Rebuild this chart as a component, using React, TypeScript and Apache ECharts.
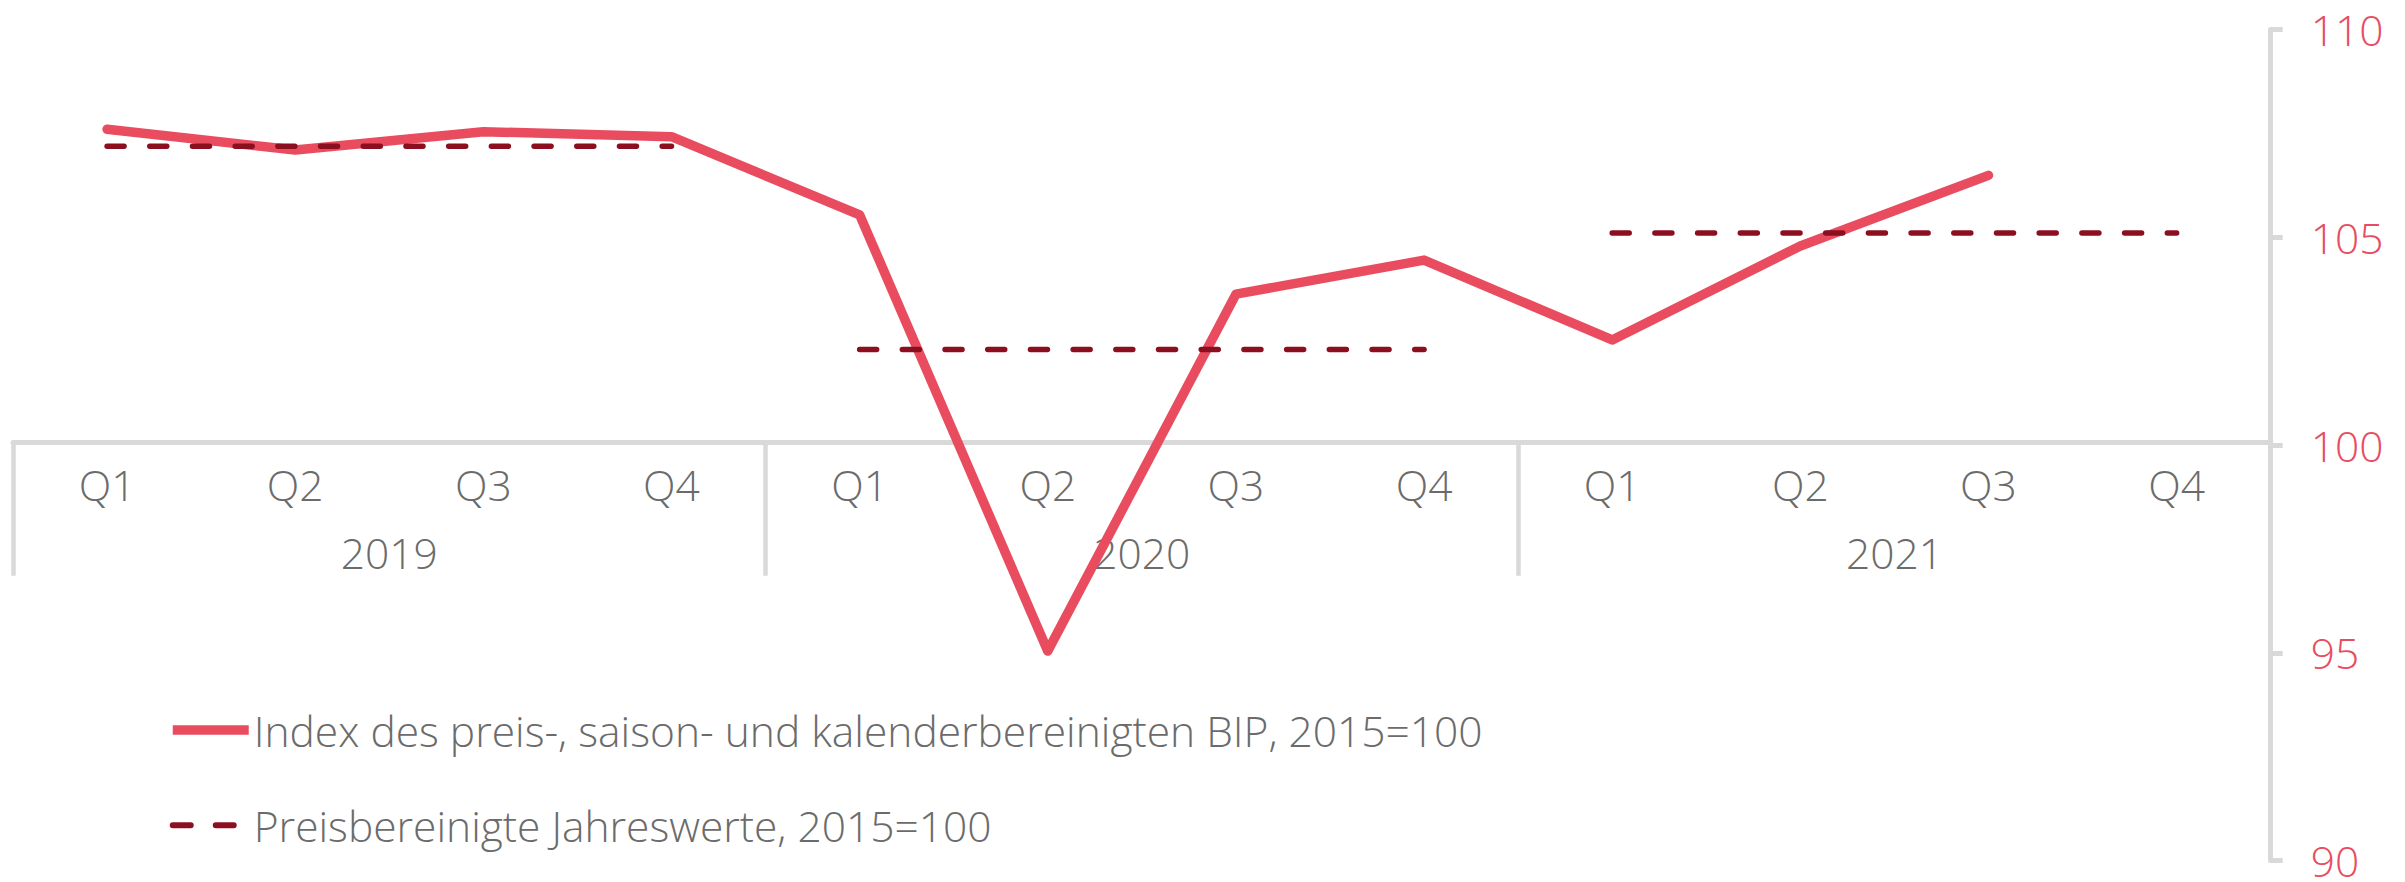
import React, { useEffect, useRef } from "react";
import * as echarts from "echarts";

const quarters = ["Q1", "Q2", "Q3", "Q4", "Q1", "Q2", "Q3", "Q4", "Q1", "Q2", "Q3", "Q4"];
const years = ["2019", "2020", "2021"];
const bipIndex: (number | null)[] = [107.6, 107.1, 107.54, 107.42, 105.54, 95.04, 103.63, 104.45, 102.53, 104.79, 106.49, null];
const annualValues = [107.19, 102.3, 105.1];
const yMin = 90;
const yMax = 110;
const yStep = 5;

const nameIndex = "Index des preis-, saison- und kalenderbereinigten BIP, 2015=100";
const nameAnnual = "Preisbereinigte Jahreswerte, 2015=100";

const RED = "#E94C5F";
const DARK = "#8C0F20";
const GRAY_AXIS = "#D9D9D9";
const TEXT = "#6B6B6B";
const FONT = "'Open Sans', sans-serif";
const FS = 42.5;

export default function App() {
  const ref = useRef<HTMLDivElement>(null);
  useEffect(() => {
    document.body.style.margin = "0";
    if (!ref.current) return;
    const chart = echarts.init(ref.current, null, { renderer: "svg" });
    const annualSeries = years.map((_, yi) => ({
      name: nameAnnual,
      type: "line",
      xAxisIndex: 0,
      yAxisIndex: 0,
      symbol: "none",
      data: quarters.map((_, qi) => (Math.floor(qi / 4) === yi ? annualValues[yi] : null)),
      lineStyle: { color: DARK, width: 5.5, type: [17, 25.7], cap: "round" },
      itemStyle: { color: DARK },
      z: 4,
    }));
    chart.setOption({
      animation: false,
      textStyle: { fontFamily: FONT, fontWeight: 300 },
      grid: { left: 13, right: 134.3, top: 29.5, bottom: 15.6, containLabel: false },
      legend: {
        orient: "vertical",
        left: 168,
        top: 708.5,
        padding: 0,
        itemWidth: 76,
        itemHeight: 40,
        itemGap: 52.3,
        textStyle: { color: TEXT, fontSize: FS, lineHeight: 40, fontFamily: FONT, fontWeight: 300 },
        data: [
          { name: nameIndex, itemStyle: { opacity: 0 }, lineStyle: { width: 9.5, cap: "butt" } },
          { name: nameAnnual, itemStyle: { opacity: 0 }, lineStyle: { width: 6, type: [18, 25], cap: "round", dashOffset: 0 } },
        ],
      },
      xAxis: [
        {
          type: "category",
          data: quarters,
          position: "bottom",
          offset: -418.4,
          boundaryGap: true,
          axisLine: { show: true, lineStyle: { color: GRAY_AXIS, width: 5 } },
          axisTick: {
            show: true,
            length: 133.7,
            interval: (index: number) => index % 4 === 0,
            lineStyle: { color: GRAY_AXIS, width: 4.5 },
          },
          axisLabel: { interval: 0, margin: 21, color: TEXT, fontSize: FS, fontFamily: FONT, fontWeight: 300 },
          splitLine: { show: false },
        },
        {
          type: "category",
          data: years,
          position: "bottom",
          offset: -418.4,
          boundaryGap: true,
          axisLine: { show: false },
          axisTick: { show: false },
          axisLabel: { interval: 0, margin: 89, color: TEXT, fontSize: FS, fontFamily: FONT, fontWeight: 300 },
          splitLine: { show: false },
        },
      ],
      yAxis: {
        type: "value",
        position: "right",
        min: yMin,
        max: yMax,
        interval: yStep,
        axisLine: { show: true, lineStyle: { color: GRAY_AXIS, width: 5 } },
        axisTick: { show: true, length: 12, lineStyle: { color: GRAY_AXIS, width: 5 } },
        axisLabel: { margin: 40, color: RED, fontSize: FS, fontFamily: FONT, fontWeight: 300 },
        splitLine: { show: false },
      },
      series: [
        {
          name: nameIndex,
          type: "line",
          xAxisIndex: 0,
          yAxisIndex: 0,
          symbol: "none",
          data: bipIndex,
          lineStyle: { color: RED, width: 9.5, cap: "round", join: "round" },
          itemStyle: { color: RED },
          z: 3,
        },
        ...annualSeries,
      ],
    });
    return () => chart.dispose();
  }, []);
  return <div ref={ref} style={{ width: 2405, height: 882 }} />;
}
